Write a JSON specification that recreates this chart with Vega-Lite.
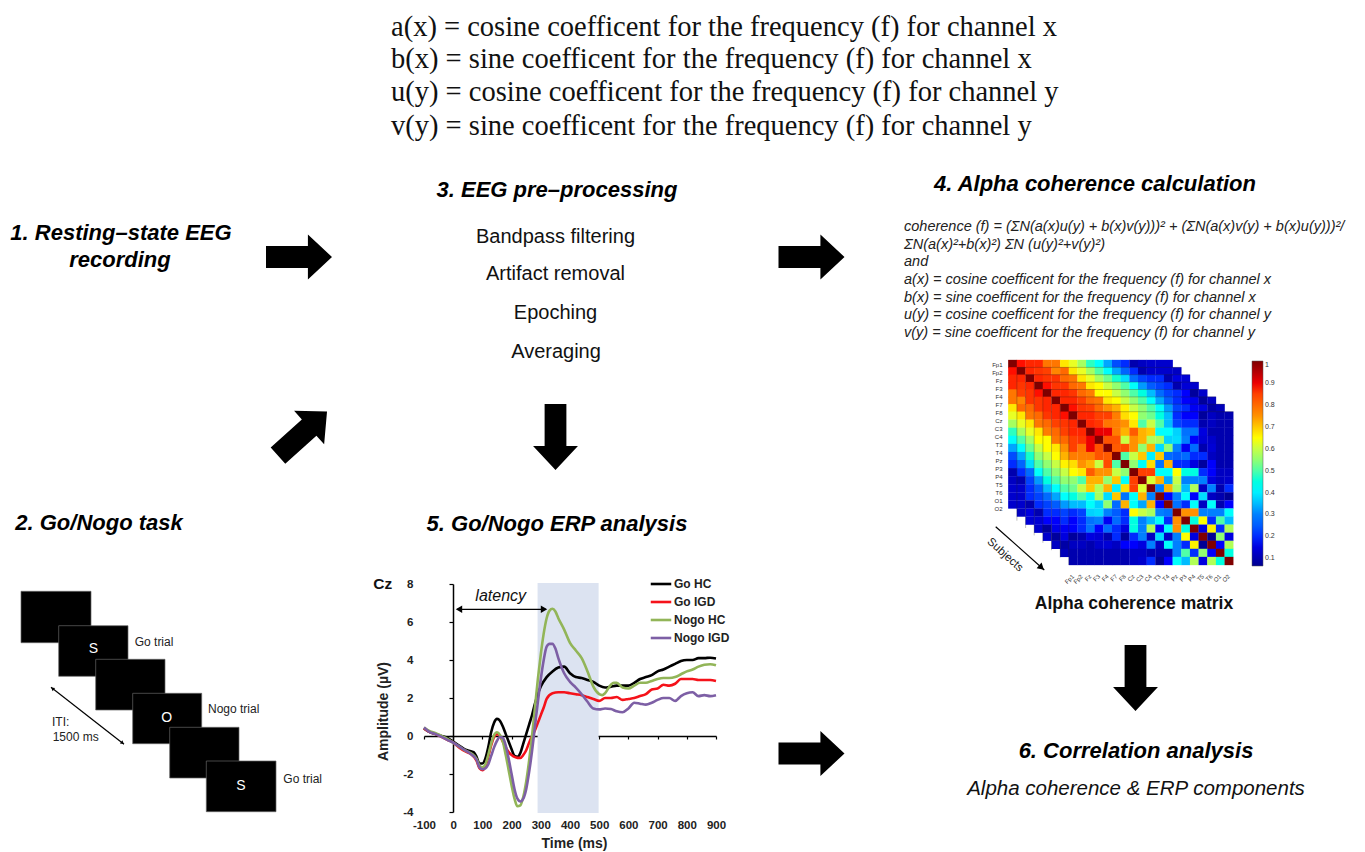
{"$schema":"https://vega.github.io/schema/vega-lite/v6.json","width":1365,"height":852,"padding":0,"autosize":{"type":"none"},"background":"white","config":{"view":{"stroke":null},"font":"Liberation Sans"},
"datasets":{
"erp":[
{"t":-100,"s":"Go HC","v":0.4},{"t":-80,"s":"Go HC","v":0.2},{"t":-60,"s":"Go HC","v":0.1},{"t":-40,"s":"Go HC","v":0},{"t":-20,"s":"Go HC","v":-0.1},{"t":0,"s":"Go HC","v":-0.3},{"t":20,"s":"Go HC","v":-0.5},{"t":40,"s":"Go HC","v":-0.7},{"t":60,"s":"Go HC","v":-0.8},{"t":70,"s":"Go HC","v":-0.85},{"t":80,"s":"Go HC","v":-1.1},{"t":90,"s":"Go HC","v":-1.45},{"t":100,"s":"Go HC","v":-1.45},{"t":110,"s":"Go HC","v":-1.2},{"t":120,"s":"Go HC","v":-0.6},{"t":130,"s":"Go HC","v":0.2},{"t":140,"s":"Go HC","v":0.7},{"t":150,"s":"Go HC","v":0.9},{"t":160,"s":"Go HC","v":0.8},{"t":170,"s":"Go HC","v":0.5},{"t":180,"s":"Go HC","v":0.1},{"t":190,"s":"Go HC","v":-0.3},{"t":200,"s":"Go HC","v":-0.7},{"t":210,"s":"Go HC","v":-1.05},{"t":220,"s":"Go HC","v":-1.1},{"t":230,"s":"Go HC","v":-0.9},{"t":240,"s":"Go HC","v":-0.4},{"t":250,"s":"Go HC","v":0.1},{"t":260,"s":"Go HC","v":0.6},{"t":270,"s":"Go HC","v":1.1},{"t":280,"s":"Go HC","v":1.7},{"t":290,"s":"Go HC","v":2.2},{"t":300,"s":"Go HC","v":2.6},{"t":320,"s":"Go HC","v":3.1},{"t":340,"s":"Go HC","v":3.4},{"t":360,"s":"Go HC","v":3.6},{"t":380,"s":"Go HC","v":3.65},{"t":400,"s":"Go HC","v":3.3},{"t":420,"s":"Go HC","v":3.1},{"t":440,"s":"Go HC","v":3.05},{"t":460,"s":"Go HC","v":2.95},{"t":480,"s":"Go HC","v":2.85},{"t":500,"s":"Go HC","v":2.65},{"t":520,"s":"Go HC","v":2.55},{"t":540,"s":"Go HC","v":2.6},{"t":560,"s":"Go HC","v":2.65},{"t":580,"s":"Go HC","v":2.65},{"t":600,"s":"Go HC","v":2.65},{"t":620,"s":"Go HC","v":2.8},{"t":640,"s":"Go HC","v":3},{"t":660,"s":"Go HC","v":3.1},{"t":680,"s":"Go HC","v":3.2},{"t":700,"s":"Go HC","v":3.4},{"t":720,"s":"Go HC","v":3.5},{"t":740,"s":"Go HC","v":3.65},{"t":760,"s":"Go HC","v":3.8},{"t":780,"s":"Go HC","v":3.95},{"t":800,"s":"Go HC","v":4},{"t":820,"s":"Go HC","v":4},{"t":840,"s":"Go HC","v":4.1},{"t":860,"s":"Go HC","v":4.1},{"t":880,"s":"Go HC","v":4.12},{"t":900,"s":"Go HC","v":4.08},
{"t":-100,"s":"Go IGD","v":0.4},{"t":-80,"s":"Go IGD","v":0.2},{"t":-60,"s":"Go IGD","v":0.1},{"t":-40,"s":"Go IGD","v":-0.05},{"t":-20,"s":"Go IGD","v":-0.2},{"t":0,"s":"Go IGD","v":-0.35},{"t":20,"s":"Go IGD","v":-0.6},{"t":40,"s":"Go IGD","v":-0.8},{"t":60,"s":"Go IGD","v":-0.95},{"t":80,"s":"Go IGD","v":-1.3},{"t":90,"s":"Go IGD","v":-1.7},{"t":100,"s":"Go IGD","v":-1.8},{"t":110,"s":"Go IGD","v":-1.6},{"t":120,"s":"Go IGD","v":-1.1},{"t":130,"s":"Go IGD","v":-0.5},{"t":140,"s":"Go IGD","v":-0.05},{"t":150,"s":"Go IGD","v":0.1},{"t":160,"s":"Go IGD","v":0},{"t":170,"s":"Go IGD","v":-0.3},{"t":180,"s":"Go IGD","v":-0.6},{"t":190,"s":"Go IGD","v":-0.85},{"t":200,"s":"Go IGD","v":-1},{"t":210,"s":"Go IGD","v":-1.1},{"t":220,"s":"Go IGD","v":-1.15},{"t":230,"s":"Go IGD","v":-1.15},{"t":240,"s":"Go IGD","v":-1},{"t":250,"s":"Go IGD","v":-0.75},{"t":260,"s":"Go IGD","v":-0.35},{"t":270,"s":"Go IGD","v":0},{"t":280,"s":"Go IGD","v":0.3},{"t":290,"s":"Go IGD","v":0.7},{"t":300,"s":"Go IGD","v":1.1},{"t":310,"s":"Go IGD","v":1.5},{"t":320,"s":"Go IGD","v":1.95},{"t":340,"s":"Go IGD","v":2.25},{"t":360,"s":"Go IGD","v":2.3},{"t":380,"s":"Go IGD","v":2.3},{"t":400,"s":"Go IGD","v":2.25},{"t":420,"s":"Go IGD","v":2.2},{"t":440,"s":"Go IGD","v":2.15},{"t":460,"s":"Go IGD","v":2.05},{"t":480,"s":"Go IGD","v":1.95},{"t":500,"s":"Go IGD","v":1.85},{"t":520,"s":"Go IGD","v":2},{"t":540,"s":"Go IGD","v":2},{"t":560,"s":"Go IGD","v":2.05},{"t":580,"s":"Go IGD","v":1.9},{"t":600,"s":"Go IGD","v":1.95},{"t":620,"s":"Go IGD","v":2},{"t":640,"s":"Go IGD","v":2.1},{"t":660,"s":"Go IGD","v":2.2},{"t":680,"s":"Go IGD","v":2.45},{"t":700,"s":"Go IGD","v":2.5},{"t":720,"s":"Go IGD","v":2.7},{"t":740,"s":"Go IGD","v":2.65},{"t":760,"s":"Go IGD","v":2.75},{"t":780,"s":"Go IGD","v":3},{"t":800,"s":"Go IGD","v":3},{"t":820,"s":"Go IGD","v":3},{"t":840,"s":"Go IGD","v":2.95},{"t":860,"s":"Go IGD","v":2.95},{"t":880,"s":"Go IGD","v":2.95},{"t":900,"s":"Go IGD","v":2.9},
{"t":-100,"s":"Nogo HC","v":0.45},{"t":-80,"s":"Nogo HC","v":0.25},{"t":-60,"s":"Nogo HC","v":0.15},{"t":-40,"s":"Nogo HC","v":0},{"t":-20,"s":"Nogo HC","v":-0.15},{"t":0,"s":"Nogo HC","v":-0.35},{"t":20,"s":"Nogo HC","v":-0.55},{"t":40,"s":"Nogo HC","v":-0.75},{"t":60,"s":"Nogo HC","v":-0.9},{"t":80,"s":"Nogo HC","v":-1.2},{"t":90,"s":"Nogo HC","v":-1.55},{"t":100,"s":"Nogo HC","v":-1.65},{"t":110,"s":"Nogo HC","v":-1.5},{"t":120,"s":"Nogo HC","v":-1},{"t":130,"s":"Nogo HC","v":-0.4},{"t":140,"s":"Nogo HC","v":0.05},{"t":150,"s":"Nogo HC","v":0.2},{"t":160,"s":"Nogo HC","v":0.05},{"t":170,"s":"Nogo HC","v":-0.3},{"t":180,"s":"Nogo HC","v":-1},{"t":190,"s":"Nogo HC","v":-1.8},{"t":200,"s":"Nogo HC","v":-2.6},{"t":210,"s":"Nogo HC","v":-3.3},{"t":220,"s":"Nogo HC","v":-3.7},{"t":230,"s":"Nogo HC","v":-3.65},{"t":240,"s":"Nogo HC","v":-3.2},{"t":250,"s":"Nogo HC","v":-2.4},{"t":260,"s":"Nogo HC","v":-1.3},{"t":270,"s":"Nogo HC","v":0},{"t":280,"s":"Nogo HC","v":1.5},{"t":290,"s":"Nogo HC","v":3},{"t":300,"s":"Nogo HC","v":4.3},{"t":310,"s":"Nogo HC","v":5.4},{"t":320,"s":"Nogo HC","v":6.2},{"t":330,"s":"Nogo HC","v":6.6},{"t":340,"s":"Nogo HC","v":6.7},{"t":350,"s":"Nogo HC","v":6.55},{"t":360,"s":"Nogo HC","v":6.2},{"t":380,"s":"Nogo HC","v":5.6},{"t":400,"s":"Nogo HC","v":4.9},{"t":420,"s":"Nogo HC","v":4.5},{"t":440,"s":"Nogo HC","v":4.1},{"t":460,"s":"Nogo HC","v":3.4},{"t":480,"s":"Nogo HC","v":2.6},{"t":500,"s":"Nogo HC","v":2.2},{"t":510,"s":"Nogo HC","v":2.15},{"t":520,"s":"Nogo HC","v":2.25},{"t":540,"s":"Nogo HC","v":2.7},{"t":550,"s":"Nogo HC","v":2.8},{"t":560,"s":"Nogo HC","v":2.8},{"t":580,"s":"Nogo HC","v":2.55},{"t":600,"s":"Nogo HC","v":2.5},{"t":620,"s":"Nogo HC","v":2.65},{"t":640,"s":"Nogo HC","v":2.8},{"t":660,"s":"Nogo HC","v":2.8},{"t":680,"s":"Nogo HC","v":2.9},{"t":700,"s":"Nogo HC","v":3},{"t":720,"s":"Nogo HC","v":3.05},{"t":740,"s":"Nogo HC","v":3.05},{"t":760,"s":"Nogo HC","v":3.1},{"t":780,"s":"Nogo HC","v":3.25},{"t":800,"s":"Nogo HC","v":3.4},{"t":820,"s":"Nogo HC","v":3.5},{"t":840,"s":"Nogo HC","v":3.65},{"t":860,"s":"Nogo HC","v":3.75},{"t":880,"s":"Nogo HC","v":3.78},{"t":900,"s":"Nogo HC","v":3.72},
{"t":-100,"s":"Nogo IGD","v":0.45},{"t":-80,"s":"Nogo IGD","v":0.2},{"t":-60,"s":"Nogo IGD","v":0.1},{"t":-40,"s":"Nogo IGD","v":-0.05},{"t":-20,"s":"Nogo IGD","v":-0.2},{"t":0,"s":"Nogo IGD","v":-0.35},{"t":20,"s":"Nogo IGD","v":-0.55},{"t":40,"s":"Nogo IGD","v":-0.75},{"t":60,"s":"Nogo IGD","v":-0.95},{"t":80,"s":"Nogo IGD","v":-1.25},{"t":90,"s":"Nogo IGD","v":-1.65},{"t":100,"s":"Nogo IGD","v":-1.75},{"t":110,"s":"Nogo IGD","v":-1.7},{"t":120,"s":"Nogo IGD","v":-1.5},{"t":130,"s":"Nogo IGD","v":-1.05},{"t":140,"s":"Nogo IGD","v":-0.6},{"t":150,"s":"Nogo IGD","v":-0.25},{"t":160,"s":"Nogo IGD","v":-0.05},{"t":170,"s":"Nogo IGD","v":-0.1},{"t":180,"s":"Nogo IGD","v":-0.5},{"t":190,"s":"Nogo IGD","v":-1.2},{"t":200,"s":"Nogo IGD","v":-2},{"t":210,"s":"Nogo IGD","v":-2.8},{"t":220,"s":"Nogo IGD","v":-3.3},{"t":230,"s":"Nogo IGD","v":-3.45},{"t":240,"s":"Nogo IGD","v":-3.3},{"t":250,"s":"Nogo IGD","v":-2.8},{"t":260,"s":"Nogo IGD","v":-1.9},{"t":270,"s":"Nogo IGD","v":-0.8},{"t":280,"s":"Nogo IGD","v":0.5},{"t":290,"s":"Nogo IGD","v":1.8},{"t":300,"s":"Nogo IGD","v":3},{"t":310,"s":"Nogo IGD","v":4},{"t":320,"s":"Nogo IGD","v":4.7},{"t":330,"s":"Nogo IGD","v":4.85},{"t":340,"s":"Nogo IGD","v":4.85},{"t":350,"s":"Nogo IGD","v":4.6},{"t":360,"s":"Nogo IGD","v":4.1},{"t":380,"s":"Nogo IGD","v":3.3},{"t":400,"s":"Nogo IGD","v":2.85},{"t":420,"s":"Nogo IGD","v":2.55},{"t":440,"s":"Nogo IGD","v":2.2},{"t":460,"s":"Nogo IGD","v":1.8},{"t":480,"s":"Nogo IGD","v":1.45},{"t":500,"s":"Nogo IGD","v":1.4},{"t":520,"s":"Nogo IGD","v":1.45},{"t":540,"s":"Nogo IGD","v":1.42},{"t":560,"s":"Nogo IGD","v":1.3},{"t":580,"s":"Nogo IGD","v":1.25},{"t":600,"s":"Nogo IGD","v":1.45},{"t":620,"s":"Nogo IGD","v":1.75},{"t":640,"s":"Nogo IGD","v":1.7},{"t":660,"s":"Nogo IGD","v":1.65},{"t":680,"s":"Nogo IGD","v":1.75},{"t":700,"s":"Nogo IGD","v":1.9},{"t":720,"s":"Nogo IGD","v":2},{"t":740,"s":"Nogo IGD","v":2},{"t":760,"s":"Nogo IGD","v":1.85},{"t":780,"s":"Nogo IGD","v":2.1},{"t":800,"s":"Nogo IGD","v":2.25},{"t":820,"s":"Nogo IGD","v":2.3},{"t":840,"s":"Nogo IGD","v":2.1},{"t":860,"s":"Nogo IGD","v":2.15},{"t":880,"s":"Nogo IGD","v":2.1},{"t":900,"s":"Nogo IGD","v":2.15}
],
"channels":[{"ch":"Fp1"},{"ch":"Fp2"},{"ch":"Fz"},{"ch":"F3"},{"ch":"F4"},{"ch":"F7"},{"ch":"F8"},{"ch":"Cz"},{"ch":"C3"},{"ch":"C4"},{"ch":"T3"},{"ch":"T4"},{"ch":"Pz"},{"ch":"P3"},{"ch":"P4"},{"ch":"T5"},{"ch":"T6"},{"ch":"O1"},{"ch":"O2"}],
"matrix":[
{"r":0,"c":0,"v":1},{"r":0,"c":1,"v":0.88},{"r":0,"c":2,"v":0.87},{"r":0,"c":3,"v":0.87},{"r":0,"c":4,"v":0.78},{"r":0,"c":5,"v":0.78},{"r":0,"c":6,"v":0.67},{"r":0,"c":7,"v":0.63},{"r":0,"c":8,"v":0.57},{"r":0,"c":9,"v":0.48},{"r":0,"c":10,"v":0.42},{"r":0,"c":11,"v":0.33},{"r":0,"c":12,"v":0.23},{"r":0,"c":13,"v":0.2},{"r":0,"c":14,"v":0.1},{"r":0,"c":15,"v":0.12},{"r":0,"c":16,"v":0.13},{"r":0,"c":17,"v":0.13},{"r":0,"c":18,"v":0.13},
{"r":1,"c":1,"v":1},{"r":1,"c":2,"v":0.87},{"r":1,"c":3,"v":0.86},{"r":1,"c":4,"v":0.85},{"r":1,"c":5,"v":0.76},{"r":1,"c":6,"v":0.8},{"r":1,"c":7,"v":0.67},{"r":1,"c":8,"v":0.63},{"r":1,"c":9,"v":0.57},{"r":1,"c":10,"v":0.5},{"r":1,"c":11,"v":0.42},{"r":1,"c":12,"v":0.33},{"r":1,"c":13,"v":0.26},{"r":1,"c":14,"v":0.2},{"r":1,"c":15,"v":0.1},{"r":1,"c":16,"v":0.13},{"r":1,"c":17,"v":0.13},{"r":1,"c":18,"v":0.13},{"r":1,"c":19,"v":0.12},
{"r":2,"c":2,"v":1},{"r":2,"c":3,"v":0.87},{"r":2,"c":4,"v":0.86},{"r":2,"c":5,"v":0.86},{"r":2,"c":6,"v":0.8},{"r":2,"c":7,"v":0.78},{"r":2,"c":8,"v":0.67},{"r":2,"c":9,"v":0.63},{"r":2,"c":10,"v":0.57},{"r":2,"c":11,"v":0.52},{"r":2,"c":12,"v":0.47},{"r":2,"c":13,"v":0.38},{"r":2,"c":14,"v":0.27},{"r":2,"c":15,"v":0.22},{"r":2,"c":16,"v":0.2},{"r":2,"c":17,"v":0.2},{"r":2,"c":18,"v":0.1},{"r":2,"c":19,"v":0.15},{"r":2,"c":20,"v":0.14},
{"r":3,"c":3,"v":1},{"r":3,"c":4,"v":0.88},{"r":3,"c":5,"v":0.86},{"r":3,"c":6,"v":0.86},{"r":3,"c":7,"v":0.8},{"r":3,"c":8,"v":0.78},{"r":3,"c":9,"v":0.67},{"r":3,"c":10,"v":0.65},{"r":3,"c":11,"v":0.6},{"r":3,"c":12,"v":0.55},{"r":3,"c":13,"v":0.5},{"r":3,"c":14,"v":0.42},{"r":3,"c":15,"v":0.32},{"r":3,"c":16,"v":0.25},{"r":3,"c":17,"v":0.22},{"r":3,"c":18,"v":0.2},{"r":3,"c":19,"v":0.1},{"r":3,"c":20,"v":0.14},{"r":3,"c":21,"v":0.13},
{"r":4,"c":4,"v":1},{"r":4,"c":5,"v":0.87},{"r":4,"c":6,"v":0.87},{"r":4,"c":7,"v":0.86},{"r":4,"c":8,"v":0.8},{"r":4,"c":9,"v":0.77},{"r":4,"c":10,"v":0.65},{"r":4,"c":11,"v":0.65},{"r":4,"c":12,"v":0.6},{"r":4,"c":13,"v":0.55},{"r":4,"c":14,"v":0.5},{"r":4,"c":15,"v":0.45},{"r":4,"c":16,"v":0.35},{"r":4,"c":17,"v":0.27},{"r":4,"c":18,"v":0.22},{"r":4,"c":19,"v":0.2},{"r":4,"c":20,"v":0.18},{"r":4,"c":21,"v":0.08},{"r":4,"c":22,"v":0.13},
{"r":5,"c":5,"v":1},{"r":5,"c":6,"v":0.87},{"r":5,"c":7,"v":0.87},{"r":5,"c":8,"v":0.85},{"r":5,"c":9,"v":0.8},{"r":5,"c":10,"v":0.78},{"r":5,"c":11,"v":0.67},{"r":5,"c":12,"v":0.65},{"r":5,"c":13,"v":0.6},{"r":5,"c":14,"v":0.55},{"r":5,"c":15,"v":0.5},{"r":5,"c":16,"v":0.42},{"r":5,"c":17,"v":0.33},{"r":5,"c":18,"v":0.25},{"r":5,"c":19,"v":0.2},{"r":5,"c":20,"v":0.18},{"r":5,"c":21,"v":0.16},{"r":5,"c":22,"v":0.08},{"r":5,"c":23,"v":0.12},
{"r":6,"c":6,"v":1},{"r":6,"c":7,"v":0.88},{"r":6,"c":8,"v":0.86},{"r":6,"c":9,"v":0.85},{"r":6,"c":10,"v":0.8},{"r":6,"c":11,"v":0.75},{"r":6,"c":12,"v":0.72},{"r":6,"c":13,"v":0.66},{"r":6,"c":14,"v":0.6},{"r":6,"c":15,"v":0.55},{"r":6,"c":16,"v":0.5},{"r":6,"c":17,"v":0.42},{"r":6,"c":18,"v":0.32},{"r":6,"c":19,"v":0.22},{"r":6,"c":20,"v":0.2},{"r":6,"c":21,"v":0.17},{"r":6,"c":22,"v":0.15},{"r":6,"c":23,"v":0.09},{"r":6,"c":24,"v":0.11},
{"c":0,"r":1,"v":0.88},{"c":0,"r":2,"v":0.87},{"c":0,"r":3,"v":0.87},{"c":0,"r":4,"v":0.78},{"c":0,"r":5,"v":0.78},{"c":0,"r":6,"v":0.67},{"c":0,"r":7,"v":0.63},{"c":0,"r":8,"v":0.57},{"c":0,"r":9,"v":0.48},{"c":0,"r":10,"v":0.42},{"c":0,"r":11,"v":0.33},{"c":0,"r":12,"v":0.23},{"c":0,"r":13,"v":0.2},{"c":0,"r":14,"v":0.1},{"c":0,"r":15,"v":0.12},{"c":0,"r":16,"v":0.13},{"c":0,"r":17,"v":0.13},{"c":0,"r":18,"v":0.13},
{"c":1,"r":2,"v":0.87},{"c":1,"r":3,"v":0.86},{"c":1,"r":4,"v":0.85},{"c":1,"r":5,"v":0.76},{"c":1,"r":6,"v":0.8},{"c":1,"r":7,"v":0.67},{"c":1,"r":8,"v":0.63},{"c":1,"r":9,"v":0.57},{"c":1,"r":10,"v":0.5},{"c":1,"r":11,"v":0.42},{"c":1,"r":12,"v":0.33},{"c":1,"r":13,"v":0.26},{"c":1,"r":14,"v":0.2},{"c":1,"r":15,"v":0.1},{"c":1,"r":16,"v":0.13},{"c":1,"r":17,"v":0.13},{"c":1,"r":18,"v":0.13},{"c":1,"r":19,"v":0.12},
{"c":2,"r":3,"v":0.87},{"c":2,"r":4,"v":0.86},{"c":2,"r":5,"v":0.86},{"c":2,"r":6,"v":0.8},{"c":2,"r":7,"v":0.78},{"c":2,"r":8,"v":0.67},{"c":2,"r":9,"v":0.63},{"c":2,"r":10,"v":0.57},{"c":2,"r":11,"v":0.52},{"c":2,"r":12,"v":0.47},{"c":2,"r":13,"v":0.38},{"c":2,"r":14,"v":0.27},{"c":2,"r":15,"v":0.22},{"c":2,"r":16,"v":0.2},{"c":2,"r":17,"v":0.2},{"c":2,"r":18,"v":0.1},{"c":2,"r":19,"v":0.15},{"c":2,"r":20,"v":0.14},
{"c":3,"r":4,"v":0.88},{"c":3,"r":5,"v":0.86},{"c":3,"r":6,"v":0.86},{"c":3,"r":7,"v":0.8},{"c":3,"r":8,"v":0.78},{"c":3,"r":9,"v":0.67},{"c":3,"r":10,"v":0.65},{"c":3,"r":11,"v":0.6},{"c":3,"r":12,"v":0.55},{"c":3,"r":13,"v":0.5},{"c":3,"r":14,"v":0.42},{"c":3,"r":15,"v":0.32},{"c":3,"r":16,"v":0.25},{"c":3,"r":17,"v":0.22},{"c":3,"r":18,"v":0.2},{"c":3,"r":19,"v":0.1},{"c":3,"r":20,"v":0.14},{"c":3,"r":21,"v":0.13},
{"c":4,"r":5,"v":0.87},{"c":4,"r":6,"v":0.87},{"c":4,"r":7,"v":0.86},{"c":4,"r":8,"v":0.8},{"c":4,"r":9,"v":0.77},{"c":4,"r":10,"v":0.65},{"c":4,"r":11,"v":0.65},{"c":4,"r":12,"v":0.6},{"c":4,"r":13,"v":0.55},{"c":4,"r":14,"v":0.5},{"c":4,"r":15,"v":0.45},{"c":4,"r":16,"v":0.35},{"c":4,"r":17,"v":0.27},{"c":4,"r":18,"v":0.22},{"c":4,"r":19,"v":0.2},{"c":4,"r":20,"v":0.18},{"c":4,"r":21,"v":0.08},{"c":4,"r":22,"v":0.13},
{"c":5,"r":6,"v":0.87},{"c":5,"r":7,"v":0.87},{"c":5,"r":8,"v":0.85},{"c":5,"r":9,"v":0.8},{"c":5,"r":10,"v":0.78},{"c":5,"r":11,"v":0.67},{"c":5,"r":12,"v":0.65},{"c":5,"r":13,"v":0.6},{"c":5,"r":14,"v":0.55},{"c":5,"r":15,"v":0.5},{"c":5,"r":16,"v":0.42},{"c":5,"r":17,"v":0.33},{"c":5,"r":18,"v":0.25},{"c":5,"r":19,"v":0.2},{"c":5,"r":20,"v":0.18},{"c":5,"r":21,"v":0.16},{"c":5,"r":22,"v":0.08},{"c":5,"r":23,"v":0.12},
{"c":6,"r":7,"v":0.88},{"c":6,"r":8,"v":0.86},{"c":6,"r":9,"v":0.85},{"c":6,"r":10,"v":0.8},{"c":6,"r":11,"v":0.75},{"c":6,"r":12,"v":0.72},{"c":6,"r":13,"v":0.66},{"c":6,"r":14,"v":0.6},{"c":6,"r":15,"v":0.55},{"c":6,"r":16,"v":0.5},{"c":6,"r":17,"v":0.42},{"c":6,"r":18,"v":0.32},{"c":6,"r":19,"v":0.22},{"c":6,"r":20,"v":0.2},{"c":6,"r":21,"v":0.17},{"c":6,"r":22,"v":0.15},{"c":6,"r":23,"v":0.09},{"c":6,"r":24,"v":0.11},
{"r":7,"c":7,"v":1},{"r":7,"c":8,"v":0.87},{"r":7,"c":9,"v":0.87},{"r":7,"c":10,"v":0.85},{"r":7,"c":11,"v":0.85},{"r":7,"c":12,"v":0.77},{"r":7,"c":13,"v":0.68},{"r":7,"c":14,"v":0.65},{"r":7,"c":15,"v":0.55},{"r":7,"c":16,"v":0.52},{"r":7,"c":17,"v":0.45},{"r":7,"c":18,"v":0.35},{"r":7,"c":19,"v":0.2},{"r":7,"c":20,"v":0.18},{"r":7,"c":21,"v":0.18},{"r":7,"c":22,"v":0.08},{"r":7,"c":23,"v":0.12},{"r":7,"c":24,"v":0.1},{"r":7,"c":25,"v":0.1},
{"r":8,"c":7,"v":0.87},{"r":8,"c":8,"v":1},{"r":8,"c":9,"v":0.87},{"r":8,"c":10,"v":0.86},{"r":8,"c":11,"v":0.78},{"r":8,"c":12,"v":0.77},{"r":8,"c":13,"v":0.75},{"r":8,"c":14,"v":0.67},{"r":8,"c":15,"v":0.5},{"r":8,"c":16,"v":0.6},{"r":8,"c":17,"v":0.5},{"r":8,"c":18,"v":0.35},{"r":8,"c":19,"v":0.22},{"r":8,"c":20,"v":0.2},{"r":8,"c":21,"v":0.2},{"r":8,"c":22,"v":0.1},{"r":8,"c":23,"v":0.12},{"r":8,"c":24,"v":0.1},{"r":8,"c":25,"v":0.1},
{"r":9,"c":7,"v":0.87},{"r":9,"c":8,"v":0.87},{"r":9,"c":9,"v":1},{"r":9,"c":10,"v":0.9},{"r":9,"c":11,"v":0.9},{"r":9,"c":12,"v":0.77},{"r":9,"c":13,"v":0.72},{"r":9,"c":14,"v":0.82},{"r":9,"c":15,"v":0.72},{"r":9,"c":16,"v":0.7},{"r":9,"c":17,"v":0.42},{"r":9,"c":18,"v":0.42},{"r":9,"c":19,"v":0.37},{"r":9,"c":20,"v":0.28},{"r":9,"c":21,"v":0.28},{"r":9,"c":22,"v":0.15},{"r":9,"c":23,"v":0.1},{"r":9,"c":24,"v":0.1},{"r":9,"c":25,"v":0.1},
{"r":10,"c":7,"v":0.85},{"r":10,"c":8,"v":0.86},{"r":10,"c":9,"v":0.9},{"r":10,"c":10,"v":1},{"r":10,"c":11,"v":0.83},{"r":10,"c":12,"v":0.83},{"r":10,"c":13,"v":0.6},{"r":10,"c":14,"v":0.75},{"r":10,"c":15,"v":0.72},{"r":10,"c":16,"v":0.58},{"r":10,"c":17,"v":0.57},{"r":10,"c":18,"v":0.37},{"r":10,"c":19,"v":0.38},{"r":10,"c":20,"v":0.3},{"r":10,"c":21,"v":0.18},{"r":10,"c":22,"v":0.14},{"r":10,"c":23,"v":0.13},{"r":10,"c":24,"v":0.1},{"r":10,"c":25,"v":0.1},
{"r":11,"c":7,"v":0.85},{"r":11,"c":8,"v":0.78},{"r":11,"c":9,"v":0.9},{"r":11,"c":10,"v":0.83},{"r":11,"c":11,"v":1},{"r":11,"c":12,"v":0.82},{"r":11,"c":13,"v":0.84},{"r":11,"c":14,"v":0.75},{"r":11,"c":15,"v":0.55},{"r":11,"c":16,"v":0.72},{"r":11,"c":17,"v":0.38},{"r":11,"c":18,"v":0.55},{"r":11,"c":19,"v":0.3},{"r":11,"c":20,"v":0.17},{"r":11,"c":21,"v":0.27},{"r":11,"c":22,"v":0.1},{"r":11,"c":23,"v":0.14},{"r":11,"c":24,"v":0.1},{"r":11,"c":25,"v":0.1},
{"r":12,"c":7,"v":0.77},{"r":12,"c":8,"v":0.77},{"r":12,"c":9,"v":0.77},{"r":12,"c":10,"v":0.83},{"r":12,"c":11,"v":0.82},{"r":12,"c":12,"v":1},{"r":12,"c":13,"v":0.5},{"r":12,"c":14,"v":0.6},{"r":12,"c":15,"v":0.7},{"r":12,"c":16,"v":0.4},{"r":12,"c":17,"v":0.7},{"r":12,"c":18,"v":0.27},{"r":12,"c":19,"v":0.25},{"r":12,"c":20,"v":0.27},{"r":12,"c":21,"v":0.2},{"r":12,"c":22,"v":0.2},{"r":12,"c":23,"v":0.12},{"r":12,"c":24,"v":0.1},{"r":12,"c":25,"v":0.1},
{"r":13,"c":7,"v":0.68},{"r":13,"c":8,"v":0.75},{"r":13,"c":9,"v":0.72},{"r":13,"c":10,"v":0.6},{"r":13,"c":11,"v":0.84},{"r":13,"c":12,"v":0.5},{"r":13,"c":13,"v":1},{"r":13,"c":14,"v":0.55},{"r":13,"c":15,"v":0.42},{"r":13,"c":16,"v":0.68},{"r":13,"c":17,"v":0.28},{"r":13,"c":18,"v":0.72},{"r":13,"c":19,"v":0.2},{"r":13,"c":20,"v":0.2},{"r":13,"c":21,"v":0.15},{"r":13,"c":22,"v":0.08},{"r":13,"c":23,"v":0.18},{"r":13,"c":24,"v":0.1},{"r":13,"c":25,"v":0.1},
{"r":14,"c":7,"v":0.65},{"r":14,"c":8,"v":0.67},{"r":14,"c":9,"v":0.82},{"r":14,"c":10,"v":0.75},{"r":14,"c":11,"v":0.75},{"r":14,"c":12,"v":0.6},{"r":14,"c":13,"v":0.55},{"r":14,"c":14,"v":1},{"r":14,"c":15,"v":0.85},{"r":14,"c":16,"v":0.85},{"r":14,"c":17,"v":0.42},{"r":14,"c":18,"v":0.42},{"r":14,"c":19,"v":0.65},{"r":14,"c":20,"v":0.45},{"r":14,"c":21,"v":0.45},{"r":14,"c":22,"v":0.2},{"r":14,"c":23,"v":0.18},{"r":14,"c":24,"v":0.12},{"r":14,"c":25,"v":0.12},
{"r":15,"c":7,"v":0.55},{"r":15,"c":8,"v":0.5},{"r":15,"c":9,"v":0.72},{"r":15,"c":10,"v":0.72},{"r":15,"c":11,"v":0.55},{"r":15,"c":12,"v":0.7},{"r":15,"c":13,"v":0.42},{"r":15,"c":14,"v":0.85},{"r":15,"c":15,"v":1},{"r":15,"c":16,"v":0.62},{"r":15,"c":17,"v":0.72},{"r":15,"c":18,"v":0.33},{"r":15,"c":19,"v":0.6},{"r":15,"c":20,"v":0.3},{"r":15,"c":21,"v":0.3},{"r":15,"c":22,"v":0.3},{"r":15,"c":23,"v":0.15},{"r":15,"c":24,"v":0.12},{"r":15,"c":25,"v":0.13},
{"r":16,"c":7,"v":0.52},{"r":16,"c":8,"v":0.6},{"r":16,"c":9,"v":0.7},{"r":16,"c":10,"v":0.58},{"r":16,"c":11,"v":0.72},{"r":16,"c":12,"v":0.4},{"r":16,"c":13,"v":0.68},{"r":16,"c":14,"v":0.85},{"r":16,"c":15,"v":0.62},{"r":16,"c":16,"v":1},{"r":16,"c":17,"v":0.3},{"r":16,"c":18,"v":0.72},{"r":16,"c":19,"v":0.57},{"r":16,"c":20,"v":0.35},{"r":16,"c":21,"v":0.58},{"r":16,"c":22,"v":0.12},{"r":16,"c":23,"v":0.3},{"r":16,"c":24,"v":0.1},{"r":16,"c":25,"v":0.2},
{"r":17,"c":7,"v":0.45},{"r":17,"c":8,"v":0.5},{"r":17,"c":9,"v":0.42},{"r":17,"c":10,"v":0.57},{"r":17,"c":11,"v":0.38},{"r":17,"c":12,"v":0.7},{"r":17,"c":13,"v":0.28},{"r":17,"c":14,"v":0.42},{"r":17,"c":15,"v":0.72},{"r":17,"c":16,"v":0.3},{"r":17,"c":17,"v":1},{"r":17,"c":18,"v":0.18},{"r":17,"c":19,"v":0.3},{"r":17,"c":20,"v":0.42},{"r":17,"c":21,"v":0.18},{"r":17,"c":22,"v":0.38},{"r":17,"c":23,"v":0.12},{"r":17,"c":24,"v":0.1},{"r":17,"c":25,"v":0.07},
{"r":18,"c":7,"v":0.35},{"r":18,"c":8,"v":0.35},{"r":18,"c":9,"v":0.42},{"r":18,"c":10,"v":0.37},{"r":18,"c":11,"v":0.55},{"r":18,"c":12,"v":0.27},{"r":18,"c":13,"v":0.72},{"r":18,"c":14,"v":0.42},{"r":18,"c":15,"v":0.33},{"r":18,"c":16,"v":0.72},{"r":18,"c":17,"v":0.18},{"r":18,"c":18,"v":1},{"r":18,"c":19,"v":0.28},{"r":18,"c":20,"v":0.2},{"r":18,"c":21,"v":0.42},{"r":18,"c":22,"v":0.12},{"r":18,"c":23,"v":0.42},{"r":18,"c":24,"v":0.1},{"r":18,"c":25,"v":0.18},
{"r":19,"c":7,"v":0.2},{"r":19,"c":8,"v":0.22},{"r":19,"c":9,"v":0.37},{"r":19,"c":10,"v":0.38},{"r":19,"c":11,"v":0.3},{"r":19,"c":12,"v":0.25},{"r":19,"c":13,"v":0.2},{"r":19,"c":14,"v":0.65},{"r":19,"c":15,"v":0.6},{"r":19,"c":16,"v":0.57},{"r":19,"c":17,"v":0.3},{"r":19,"c":18,"v":0.28},{"r":19,"c":19,"v":1},{"r":19,"c":20,"v":0.75},{"r":19,"c":21,"v":0.75},{"r":19,"c":22,"v":0.3},{"r":19,"c":23,"v":0.3},{"r":19,"c":24,"v":0.3},{"r":19,"c":25,"v":0.42},
{"r":20,"c":7,"v":0.18},{"r":20,"c":8,"v":0.2},{"r":20,"c":9,"v":0.28},{"r":20,"c":10,"v":0.3},{"r":20,"c":11,"v":0.17},{"r":20,"c":12,"v":0.27},{"r":20,"c":13,"v":0.2},{"r":20,"c":14,"v":0.45},{"r":20,"c":15,"v":0.3},{"r":20,"c":16,"v":0.35},{"r":20,"c":17,"v":0.42},{"r":20,"c":18,"v":0.2},{"r":20,"c":19,"v":0.75},{"r":20,"c":20,"v":1},{"r":20,"c":21,"v":0.45},{"r":20,"c":22,"v":0.65},{"r":20,"c":23,"v":0.2},{"r":20,"c":24,"v":0.5},{"r":20,"c":25,"v":0.35},
{"r":21,"c":7,"v":0.18},{"r":21,"c":8,"v":0.2},{"r":21,"c":9,"v":0.28},{"r":21,"c":10,"v":0.18},{"r":21,"c":11,"v":0.27},{"r":21,"c":12,"v":0.2},{"r":21,"c":13,"v":0.15},{"r":21,"c":14,"v":0.45},{"r":21,"c":15,"v":0.3},{"r":21,"c":16,"v":0.58},{"r":21,"c":17,"v":0.18},{"r":21,"c":18,"v":0.42},{"r":21,"c":19,"v":0.75},{"r":21,"c":20,"v":0.45},{"r":21,"c":21,"v":1},{"r":21,"c":22,"v":0.15},{"r":21,"c":23,"v":0.66},{"r":21,"c":24,"v":0.2},{"r":21,"c":25,"v":0.58},
{"r":22,"c":7,"v":0.08},{"r":22,"c":8,"v":0.1},{"r":22,"c":9,"v":0.15},{"r":22,"c":10,"v":0.14},{"r":22,"c":11,"v":0.1},{"r":22,"c":12,"v":0.2},{"r":22,"c":13,"v":0.08},{"r":22,"c":14,"v":0.2},{"r":22,"c":15,"v":0.3},{"r":22,"c":16,"v":0.12},{"r":22,"c":17,"v":0.38},{"r":22,"c":18,"v":0.12},{"r":22,"c":19,"v":0.3},{"r":22,"c":20,"v":0.65},{"r":22,"c":21,"v":0.15},{"r":22,"c":22,"v":1},{"r":22,"c":23,"v":0.07},{"r":22,"c":24,"v":0.55},{"r":22,"c":25,"v":0.15},
{"r":23,"c":7,"v":0.12},{"r":23,"c":8,"v":0.12},{"r":23,"c":9,"v":0.1},{"r":23,"c":10,"v":0.13},{"r":23,"c":11,"v":0.14},{"r":23,"c":12,"v":0.12},{"r":23,"c":13,"v":0.18},{"r":23,"c":14,"v":0.18},{"r":23,"c":15,"v":0.15},{"r":23,"c":16,"v":0.3},{"r":23,"c":17,"v":0.12},{"r":23,"c":18,"v":0.42},{"r":23,"c":19,"v":0.3},{"r":23,"c":20,"v":0.2},{"r":23,"c":21,"v":0.66},{"r":23,"c":22,"v":0.07},{"r":23,"c":23,"v":1},{"r":23,"c":24,"v":0.18},{"r":23,"c":25,"v":0.58},
{"r":24,"c":7,"v":0.1},{"r":24,"c":8,"v":0.1},{"r":24,"c":9,"v":0.1},{"r":24,"c":10,"v":0.1},{"r":24,"c":11,"v":0.1},{"r":24,"c":12,"v":0.1},{"r":24,"c":13,"v":0.1},{"r":24,"c":14,"v":0.12},{"r":24,"c":15,"v":0.12},{"r":24,"c":16,"v":0.1},{"r":24,"c":17,"v":0.1},{"r":24,"c":18,"v":0.1},{"r":24,"c":19,"v":0.3},{"r":24,"c":20,"v":0.5},{"r":24,"c":21,"v":0.2},{"r":24,"c":22,"v":0.55},{"r":24,"c":23,"v":0.18},{"r":24,"c":24,"v":1},{"r":24,"c":25,"v":0.45},
{"r":25,"c":7,"v":0.1},{"r":25,"c":8,"v":0.1},{"r":25,"c":9,"v":0.1},{"r":25,"c":10,"v":0.1},{"r":25,"c":11,"v":0.1},{"r":25,"c":12,"v":0.1},{"r":25,"c":13,"v":0.1},{"r":25,"c":14,"v":0.12},{"r":25,"c":15,"v":0.13},{"r":25,"c":16,"v":0.2},{"r":25,"c":17,"v":0.07},{"r":25,"c":18,"v":0.18},{"r":25,"c":19,"v":0.42},{"r":25,"c":20,"v":0.35},{"r":25,"c":21,"v":0.58},{"r":25,"c":22,"v":0.15},{"r":25,"c":23,"v":0.58},{"r":25,"c":24,"v":0.45},{"r":25,"c":25,"v":1}
]},
"resolve":{"scale":{"x":"independent","y":"independent","color":"independent"}},
"layer":[
{"data":{"values":[{"start":289,"end":498,"lo":-4.05,"hi":8.05}]},"mark":{"type":"rect","color":"#dce3f1"},"encoding":{"x":{"field":"start","type":"quantitative","axis":null,"scale":{"domain":[-100,900],"range":[424,716],"nice":false,"zero":false}},"x2":{"field":"end"},"y":{"field":"lo","type":"quantitative","axis":null,"scale":{"domain":[-4,8],"range":[812,584],"nice":false,"zero":false}},"y2":{"field":"hi"}}},
{"data":{"name":"erp"},"mark":{"type":"line","strokeWidth":2.6,"interpolate":"monotone"},"encoding":{"x":{"field":"t","type":"quantitative","scale":{"domain":[-100,900],"range":[424,716],"nice":false,"zero":false},"axis":{"orient":"bottom","offset":-116,"values":[-100,0,100,200,300,400,500,600,700,800,900],"labelExpr":"datum.value+''","grid":false,"domainColor":"#000","domainWidth":1.5,"tickColor":"#000","tickSize":3,"tickWidth":1.2,"labelPadding":80,"labelFontSize":11.5,"labelFontWeight":"bold","labelColor":"#222","labelFont":"Liberation Sans","labelFlush":false,"labelOverlap":false,"title":"Time (ms)","titleFont":"Liberation Sans","titleFontSize":14,"titleFontWeight":"bold","titleColor":"#222","titleX":574,"titleY":114,"titleBaseline":"bottom"}},"y":{"field":"v","type":"quantitative","scale":{"domain":[-4,8],"range":[812,584],"nice":false,"zero":false},"axis":{"orient":"left","offset":-453,"values":[-4,-2,0,2,4,6,8],"labelExpr":"datum.value+''","grid":false,"domainColor":"#000","domainWidth":1.5,"tickColor":"#000","tickSize":4,"tickWidth":1.2,"labelPadding":36,"labelFontSize":11.5,"labelFontWeight":"bold","labelColor":"#222","labelFont":"Liberation Sans","title":"Amplitude (µV)","titleFont":"Liberation Sans","titleFontSize":14,"titleFontWeight":"bold","titleColor":"#222","titleX":-63,"titleY":711}},"color":{"field":"s","type":"nominal","sort":null,"scale":{"domain":["Go HC","Go IGD","Nogo HC","Nogo IGD"],"range":["#000000","#f5121a","#92b558","#7d5fa5"]},"legend":{"orient":"none","legendX":649,"legendY":572,"title":null,"symbolType":"stroke","symbolSize":420,"symbolStrokeWidth":2.6,"labelFontSize":12,"labelFontWeight":"bold","labelColor":"#222","labelFont":"Liberation Sans","labelOffset":1,"rowPadding":-4}}}},
{"data":{"name":"matrix"},"mark":{"type":"rect","width":8.9,"height":8.3},"encoding":{"x":{"field":"c","type":"quantitative","axis":null,"scale":{"domain":[0,25],"range":[1012.6,1229],"nice":false,"zero":false}},"y":{"field":"r","type":"quantitative","axis":null,"scale":{"domain":[0,6,7,25],"range":[364,408.2,415.7,561],"nice":false,"zero":false}},"color":{"field":"v","type":"quantitative","scale":{"domain":[0.065,0.182,0.299,0.416,0.5325,0.649,0.766,0.883,1],"range":["#00008f","#0000ff","#007fff","#00ffff","#7fff7f","#ffff00","#ff7f00","#ff0000","#7f0000"]},"legend":{"orient":"none","legendX":1252,"legendY":361,"title":null,"direction":"vertical","gradientLength":205,"gradientThickness":11,"values":[0.1,0.2,0.3,0.4,0.5,0.6,0.7,0.8,0.9,1],"format":"~g","labelFontSize":7,"labelFont":"Liberation Sans","labelColor":"#333","labelOverlap":false,"gradientStrokeColor":"#555","gradientStrokeWidth":0.5,"labelOffset":2}}}},
{"data":{"values":[{"x":1016.9,"x2":1181.2,"y":367.4,"y2":367.4},{"x":1025.6,"x2":1189.9,"y":374.7,"y2":374.7},{"x":1034.2,"x2":1198.5,"y":382.1,"y2":382.1},{"x":1042.9,"x2":1207.2,"y":389.5,"y2":389.5},{"x":1051.5,"x2":1215.8,"y":396.9,"y2":396.9},{"x":1060.2,"x2":1224.5,"y":404.2,"y2":404.2},{"x":1068.8,"x2":1233.3,"y":411.7,"y2":411.7},{"x":1016.9,"x2":1016.9,"y":367.4,"y2":520.7},{"x":1025.6,"x2":1025.6,"y":374.7,"y2":528},{"x":1034.2,"x2":1034.2,"y":382.1,"y2":535.4},{"x":1042.9,"x2":1042.9,"y":389.5,"y2":542.8},{"x":1051.5,"x2":1051.5,"y":396.9,"y2":550.2},{"x":1060.2,"x2":1060.2,"y":404.2,"y2":557.5},{"x":1068.8,"x2":1068.8,"y":411.7,"y2":565}]},"mark":{"type":"rule","color":"#222","strokeWidth":0.7,"opacity":0.4},"encoding":{"x":{"field":"x","type":"quantitative","axis":null,"scale":{"domain":[0,1365],"range":[0,1365],"nice":false,"zero":false}},"x2":{"field":"x2"},"y":{"field":"y","type":"quantitative","axis":null,"scale":{"domain":[0,852],"range":[0,852],"nice":false,"zero":false}},"y2":{"field":"y2"}}},
{"data":{"name":"channels"},"mark":{"type":"rect","opacity":0},"encoding":{"x":{"field":"ch","type":"nominal","sort":null,"scale":{"range":[1068.8,1233.3],"paddingInner":0,"paddingOuter":0},"axis":{"orient":"bottom","offset":-278,"title":null,"domain":false,"ticks":false,"labelAngle":-45,"labelAlign":"right","labelBaseline":"middle","labelFontSize":6,"labelColor":"#333","labelPadding":1,"labelOverlap":false,"labelFont":"Liberation Sans"}},"y":{"field":"ch","type":"nominal","sort":null,"scale":{"range":[361.3,513],"paddingInner":0,"paddingOuter":0},"axis":{"orient":"left","offset":-1004,"title":null,"domain":false,"ticks":false,"labelFontSize":6,"labelColor":"#333","labelPadding":2,"labelOverlap":false,"labelFont":"Liberation Sans"}}}},
{"data":{"values":[{"x":21,"x2":91,"y":591.3,"y2":642.7},{"x":58.7,"x2":128,"y":625.7,"y2":676.3},{"x":95.7,"x2":165,"y":659.3,"y2":710},{"x":132.7,"x2":201.7,"y":693.3,"y2":743.7},{"x":169.7,"x2":239,"y":727.3,"y2":778},{"x":206.3,"x2":276,"y":761,"y2":811.7}]},"mark":{"type":"rect","color":"#000","stroke":"#666","strokeWidth":0.7},"encoding":{"x":{"field":"x","type":"quantitative","axis":null,"scale":{"domain":[0,1365],"range":[0,1365],"nice":false,"zero":false}},"x2":{"field":"x2"},"y":{"field":"y","type":"quantitative","axis":null,"scale":{"domain":[0,852],"range":[0,852],"nice":false,"zero":false}},"y2":{"field":"y2"}}},
{"data":{"values":[{"x":299,"y":257},{"x":811.5,"y":257},{"x":811.5,"y":753.5}]},"mark":{"type":"point","shape":"M-1,-0.33L0.27,-0.33L0.27,-0.68L1,0L0.27,0.68L0.27,0.33L-1,0.33Z","size":4356,"filled":true,"color":"#000","opacity":1,"strokeWidth":0},"encoding":{"x":{"field":"x","type":"quantitative","axis":null,"scale":{"domain":[0,1365],"range":[0,1365],"nice":false,"zero":false}},"y":{"field":"y","type":"quantitative","axis":null,"scale":{"domain":[0,852],"range":[0,852],"nice":false,"zero":false}}}},
{"data":{"values":[{"x":555.5,"y":437},{"x":1135.5,"y":678}]},"mark":{"type":"point","shape":"M-1,-0.33L0.27,-0.33L0.27,-0.68L1,0L0.27,0.68L0.27,0.33L-1,0.33Z","size":4356,"angle":90,"filled":true,"color":"#000","opacity":1,"strokeWidth":0},"encoding":{"x":{"field":"x","type":"quantitative","axis":null,"scale":{"domain":[0,1365],"range":[0,1365],"nice":false,"zero":false}},"y":{"field":"y","type":"quantitative","axis":null,"scale":{"domain":[0,852],"range":[0,852],"nice":false,"zero":false}}}},
{"data":{"values":[{"x":302.5,"y":433.5}]},"mark":{"type":"point","shape":"M-1,-0.33L0.27,-0.33L0.27,-0.68L1,0L0.27,0.68L0.27,0.33L-1,0.33Z","size":4356,"angle":318,"filled":true,"color":"#000","opacity":1,"strokeWidth":0},"encoding":{"x":{"field":"x","type":"quantitative","axis":null,"scale":{"domain":[0,1365],"range":[0,1365],"nice":false,"zero":false}},"y":{"field":"y","type":"quantitative","axis":null,"scale":{"domain":[0,852],"range":[0,852],"nice":false,"zero":false}}}},
{"data":{"values":[{"x":457,"y":609.3,"x2":546,"y2":609.3},{"x":51,"y":687.3,"x2":124,"y2":744.3},{"x":995.7,"y":526.7,"x2":1044.3,"y2":570}]},"mark":{"type":"rule","color":"#000","strokeWidth":1.2},"encoding":{"x":{"field":"x","type":"quantitative","axis":null,"scale":{"domain":[0,1365],"range":[0,1365],"nice":false,"zero":false}},"x2":{"field":"x2"},"y":{"field":"y","type":"quantitative","axis":null,"scale":{"domain":[0,852],"range":[0,852],"nice":false,"zero":false}},"y2":{"field":"y2"}}},
{"data":{"values":[{"x":459,"y":609.3,"a":180},{"x":544,"y":609.3,"a":0},{"x":1041.5,"y":567.5,"a":41.7}]},"mark":{"type":"point","shape":"triangle-right","size":55,"filled":true,"color":"#000","opacity":1},"encoding":{"x":{"field":"x","type":"quantitative","axis":null,"scale":{"domain":[0,1365],"range":[0,1365],"nice":false,"zero":false}},"y":{"field":"y","type":"quantitative","axis":null,"scale":{"domain":[0,852],"range":[0,852],"nice":false,"zero":false}},"angle":{"field":"a","type":"quantitative","scale":null}}},
{"data":{"values":[{"x":52.5,"y":688.5,"a":218},{"x":122.5,"y":743,"a":38}]},"mark":{"type":"point","shape":"triangle-right","size":16,"filled":true,"color":"#000","opacity":1},"encoding":{"x":{"field":"x","type":"quantitative","axis":null,"scale":{"domain":[0,1365],"range":[0,1365],"nice":false,"zero":false}},"y":{"field":"y","type":"quantitative","axis":null,"scale":{"domain":[0,852],"range":[0,852],"nice":false,"zero":false}},"angle":{"field":"a","type":"quantitative","scale":null}}},
{"data":{"values":[{"t":"a(x) = cosine coefficent for the frequency (f) for channel x","x":391,"y":27},{"t":"b(x) = sine coefficent for the frequency (f) for channel x","x":391,"y":59},{"t":"u(y) = cosine coefficent for the frequency (f) for channel y","x":391,"y":92},{"t":"v(y) = sine coefficent for the frequency (f) for channel y","x":391,"y":126}]},"mark":{"type":"text","font":"Liberation Serif","fontSize":28.5,"align":"left","baseline":"middle","color":"#111"},"encoding":{"x":{"field":"x","type":"quantitative","axis":null,"scale":{"domain":[0,1365],"range":[0,1365],"nice":false,"zero":false}},"y":{"field":"y","type":"quantitative","axis":null,"scale":{"domain":[0,852],"range":[0,852],"nice":false,"zero":false}},"text":{"field":"t","type":"nominal"}}},
{"data":{"values":[{"t":"1. Resting–state EEG","x":121,"y":233},{"t":"recording","x":120,"y":260},{"t":"2. Go/Nogo task","x":99,"y":523},{"t":"3. EEG pre–processing","x":557,"y":190},{"t":"4. Alpha coherence calculation","x":1095,"y":184},{"t":"5. Go/Nogo ERP analysis","x":557,"y":524},{"t":"6. Correlation analysis","x":1136,"y":751}]},"mark":{"type":"text","font":"Liberation Sans","fontSize":22,"fontStyle":"italic","fontWeight":"bold","align":"center","baseline":"middle","color":"#000"},"encoding":{"x":{"field":"x","type":"quantitative","axis":null,"scale":{"domain":[0,1365],"range":[0,1365],"nice":false,"zero":false}},"y":{"field":"y","type":"quantitative","axis":null,"scale":{"domain":[0,852],"range":[0,852],"nice":false,"zero":false}},"text":{"field":"t","type":"nominal"}}},
{"data":{"values":[{"t":"Bandpass filtering","x":555.5,"y":236.5},{"t":"Artifact removal","x":555.5,"y":274},{"t":"Epoching","x":555.5,"y":312.5},{"t":"Averaging","x":556,"y":351.5}]},"mark":{"type":"text","font":"Liberation Sans","fontSize":20,"align":"center","baseline":"middle","color":"#111"},"encoding":{"x":{"field":"x","type":"quantitative","axis":null,"scale":{"domain":[0,1365],"range":[0,1365],"nice":false,"zero":false}},"y":{"field":"y","type":"quantitative","axis":null,"scale":{"domain":[0,852],"range":[0,852],"nice":false,"zero":false}},"text":{"field":"t","type":"nominal"}}},
{"data":{"values":[{"t":"Alpha coherence & ERP components","x":1136,"y":789}]},"mark":{"type":"text","font":"Liberation Sans","fontSize":20.5,"fontStyle":"italic","align":"center","baseline":"middle","color":"#111"},"encoding":{"x":{"field":"x","type":"quantitative","axis":null,"scale":{"domain":[0,1365],"range":[0,1365],"nice":false,"zero":false}},"y":{"field":"y","type":"quantitative","axis":null,"scale":{"domain":[0,852],"range":[0,852],"nice":false,"zero":false}},"text":{"field":"t","type":"nominal"}}},
{"data":{"values":[{"t":"coherence (f) = (ΣN(a(x)u(y) + b(x)v(y)))² + (ΣN(a(x)v(y) + b(x)u(y)))²/","x":904,"y":227},{"t":"ΣN(a(x)²+b(x)²) ΣN (u(y)²+v(y)²)","x":904,"y":245},{"t":"and","x":904,"y":262},{"t":"a(x) = cosine coefficent for the frequency (f) for channel x","x":904,"y":280},{"t":"b(x) = sine coefficent for the frequency (f) for channel x","x":904,"y":298},{"t":"u(y) = cosine coefficent for the frequency (f) for channel y","x":904,"y":315},{"t":"v(y) = sine coefficent for the frequency (f) for channel y","x":904,"y":333}]},"mark":{"type":"text","font":"Liberation Sans","fontSize":14.5,"fontStyle":"italic","align":"left","baseline":"middle","color":"#222"},"encoding":{"x":{"field":"x","type":"quantitative","axis":null,"scale":{"domain":[0,1365],"range":[0,1365],"nice":false,"zero":false}},"y":{"field":"y","type":"quantitative","axis":null,"scale":{"domain":[0,852],"range":[0,852],"nice":false,"zero":false}},"text":{"field":"t","type":"nominal"}}},
{"data":{"values":[{"t":"Alpha coherence matrix","x":1134,"y":604}]},"mark":{"type":"text","font":"Liberation Sans","fontSize":17.5,"fontWeight":"bold","align":"center","baseline":"middle","color":"#111"},"encoding":{"x":{"field":"x","type":"quantitative","axis":null,"scale":{"domain":[0,1365],"range":[0,1365],"nice":false,"zero":false}},"y":{"field":"y","type":"quantitative","axis":null,"scale":{"domain":[0,852],"range":[0,852],"nice":false,"zero":false}},"text":{"field":"t","type":"nominal"}}},
{"data":{"values":[{"t":"S","x":93.3,"y":649},{"t":"O","x":166.7,"y":718},{"t":"S","x":241,"y":786}]},"mark":{"type":"text","font":"Liberation Sans","fontSize":14,"align":"center","baseline":"middle","color":"#fff"},"encoding":{"x":{"field":"x","type":"quantitative","axis":null,"scale":{"domain":[0,1365],"range":[0,1365],"nice":false,"zero":false}},"y":{"field":"y","type":"quantitative","axis":null,"scale":{"domain":[0,852],"range":[0,852],"nice":false,"zero":false}},"text":{"field":"t","type":"nominal"}}},
{"data":{"values":[{"t":"Go trial","x":134.7,"y":641.5},{"t":"Nogo trial","x":208,"y":709},{"t":"Go trial","x":283.3,"y":779},{"t":"ITI:","x":52,"y":722},{"t":"1500 ms","x":52.7,"y":736.5}]},"mark":{"type":"text","font":"Liberation Sans","fontSize":12,"align":"left","baseline":"middle","color":"#222"},"encoding":{"x":{"field":"x","type":"quantitative","axis":null,"scale":{"domain":[0,1365],"range":[0,1365],"nice":false,"zero":false}},"y":{"field":"y","type":"quantitative","axis":null,"scale":{"domain":[0,852],"range":[0,852],"nice":false,"zero":false}},"text":{"field":"t","type":"nominal"}}},
{"data":{"values":[{"t":"Cz","x":382.7,"y":584}]},"mark":{"type":"text","font":"Liberation Sans","fontSize":15.5,"fontWeight":"bold","align":"center","baseline":"middle","color":"#111"},"encoding":{"x":{"field":"x","type":"quantitative","axis":null,"scale":{"domain":[0,1365],"range":[0,1365],"nice":false,"zero":false}},"y":{"field":"y","type":"quantitative","axis":null,"scale":{"domain":[0,852],"range":[0,852],"nice":false,"zero":false}},"text":{"field":"t","type":"nominal"}}},
{"data":{"values":[{"t":"latency","x":500.7,"y":596}]},"mark":{"type":"text","font":"Liberation Sans","fontSize":16,"fontStyle":"italic","align":"center","baseline":"middle","color":"#111"},"encoding":{"x":{"field":"x","type":"quantitative","axis":null,"scale":{"domain":[0,1365],"range":[0,1365],"nice":false,"zero":false}},"y":{"field":"y","type":"quantitative","axis":null,"scale":{"domain":[0,852],"range":[0,852],"nice":false,"zero":false}},"text":{"field":"t","type":"nominal"}}},
{"data":{"values":[{"t":"Subjects","x":1005,"y":555}]},"mark":{"type":"text","font":"Liberation Sans","fontSize":11.5,"angle":42,"align":"center","baseline":"middle","color":"#222"},"encoding":{"x":{"field":"x","type":"quantitative","axis":null,"scale":{"domain":[0,1365],"range":[0,1365],"nice":false,"zero":false}},"y":{"field":"y","type":"quantitative","axis":null,"scale":{"domain":[0,852],"range":[0,852],"nice":false,"zero":false}},"text":{"field":"t","type":"nominal"}}}
]}
